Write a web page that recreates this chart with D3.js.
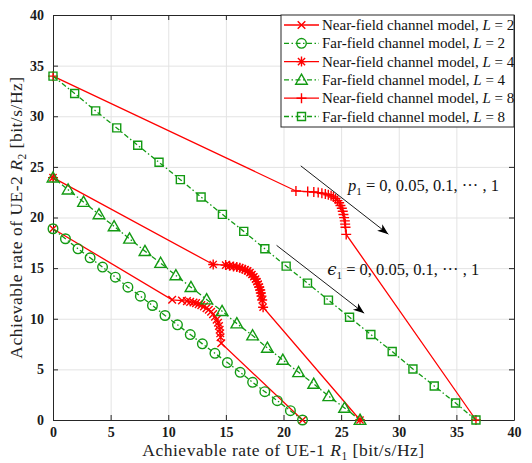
<!DOCTYPE html>
<html><head><meta charset="utf-8">
<script src="https://cdn.jsdelivr.net/npm/d3@7"></script>
<style>body{margin:0;background:#fff}</style>
</head><body>
<svg id="c" width="532" height="463"></svg>
<script>
// ---- data ----
const xTicks = [0,5,10,15,20,25,30,35,40];
const yTicks = [0,5,10,15,20,25,30,35,40];
const legendLabels = ["Near-field channel model, ","Far-field channel model, ","Near-field channel model, ","Far-field channel model, ","Near-field channel model, ","Far-field channel model, "];
const legendL = ["2","2","4","4","8","8"];

const nearL2X = [0,10.34,11.19,11.62,11.90,12.19,12.41,12.64,12.87,13.10,13.32,13.52,13.72,13.89,14.06,14.20,14.32,14.40,14.46,14.51,14.54,14.60,21.65];
const nearL2Y = [18.89,11.87,11.80,11.74,11.67,11.61,11.54,11.44,11.35,11.22,11.05,10.89,10.69,10.46,10.20,9.91,9.61,9.28,8.92,8.56,8.17,7.58,0];
const farL2X = [0,1.08,2.17,3.22,4.30,5.41,6.50,7.58,8.63,9.72,10.80,11.91,12.96,14.05,15.13,16.24,17.32,18.38,19.46,20.60,21.65];
const farL2Y = [18.89,17.90,16.91,16.02,15.10,14.11,13.12,12.23,11.31,10.32,9.40,8.44,7.52,6.59,5.67,4.71,3.72,2.80,1.91,0.92,0];

const nearL4X = [0,13.90,14.98,15.32,15.66,15.95,16.21,16.44,16.67,16.89,17.09,17.26,17.43,17.58,17.69,17.80,17.89,17.98,18.03,18.09,18.15,18.23,26.64];
const nearL4Y = [23.94,15.36,15.30,15.23,15.17,15.10,15.04,14.94,14.85,14.72,14.56,14.37,14.15,13.92,13.67,13.42,13.13,12.84,12.55,12.23,11.85,11.14,0];
const farL4X = [0,1.31,2.65,3.99,5.30,6.64,7.98,9.34,10.66,11.97,13.33,14.67,15.95,17.32,18.60,19.94,21.31,22.62,23.93,25.30,26.64];
const farL4Y = [23.94,22.75,21.53,20.31,19.12,17.90,16.68,15.50,14.28,13.12,11.90,10.75,9.53,8.34,7.12,5.93,4.71,3.56,2.34,1.19,0];

const nearL8X = [0,21.08,22.10,22.63,23.01,23.33,23.63,23.89,24.13,24.33,24.51,24.68,24.83,24.94,25.06,25.14,25.20,25.26,25.32,25.35,25.38,25.44,36.70];
const nearL8Y = [33.96,22.62,22.56,22.52,22.46,22.40,22.33,22.24,22.14,22.02,21.86,21.67,21.45,21.19,20.91,20.62,20.30,19.99,19.67,19.35,19.03,18.33,0];
const farL8X = [0,1.88,3.70,5.53,7.35,9.20,11.05,12.85,14.70,16.55,18.38,20.23,22.08,23.90,25.73,27.58,29.43,31.23,33.08,34.93,36.70];
const farL8Y = [33.96,32.25,30.53,28.85,27.13,25.45,23.74,22.02,20.31,18.63,16.91,15.20,13.52,11.84,10.15,8.44,6.76,5.04,3.36,1.68,0];

const arrowP = [[21.5,25.1],[29.1,18.35]];
const arrowE = [[19.4,17.25],[27.0,10.55]];
const textP = [25.6,23.1];
const textE = [23.8,14.8];

// ---- chart ----
const RED = "#ff0000", GREEN = "#139a13", AX = "#262626";
const L = 53, R = 514, T = 15, B = 420;
const x = d3.scaleLinear().domain([0,40]).range([L,R]);
const y = d3.scaleLinear().domain([0,40]).range([B,T]);
const svg = d3.select("#c");
const FONT = "'Liberation Serif','Times New Roman','DejaVu Serif',serif";

// grid
const g = svg.append("g");
g.append("g").attr("transform",`translate(0,${B})`)
  .call(d3.axisBottom(x).tickValues(xTicks).tickSize(-(B-T)).tickFormat(""))
  .call(s=>{s.select(".domain").remove(); s.selectAll("line").attr("stroke","#e3e3e3");});
g.append("g").attr("transform",`translate(${L},0)`)
  .call(d3.axisLeft(y).tickValues(yTicks).tickSize(-(R-L)).tickFormat(""))
  .call(s=>{s.select(".domain").remove(); s.selectAll("line").attr("stroke","#e3e3e3");});

// axes (inward ticks, box)
function styleAx(s){
  s.select(".domain").attr("stroke",AX);
  s.selectAll(".tick line").attr("stroke",AX);
  s.selectAll("text").attr("font-family",FONT).attr("font-weight","bold").attr("font-size","14px").attr("fill","#1a1a1a");
}
svg.append("g").attr("transform",`translate(0,${B})`)
  .call(d3.axisBottom(x).tickValues(xTicks).tickSizeInner(-5).tickSizeOuter(0).tickPadding(7).tickFormat(d3.format("d")))
  .call(styleAx);
svg.append("g").attr("transform",`translate(0,${T})`)
  .call(d3.axisTop(x).tickValues(xTicks).tickSizeInner(-5).tickSizeOuter(0).tickFormat(""))
  .call(styleAx);
svg.append("g").attr("transform",`translate(${L},0)`)
  .call(d3.axisLeft(y).tickValues(yTicks).tickSizeInner(-5).tickSizeOuter(0).tickPadding(9).tickFormat(d3.format("d")))
  .call(styleAx);
svg.append("g").attr("transform",`translate(${R},0)`)
  .call(d3.axisRight(y).tickValues(yTicks).tickSizeInner(-5).tickSizeOuter(0).tickFormat(""))
  .call(styleAx);

// markers
function markerPath(type){
  switch(type){
    case "x": {const s=3.8; return `M${-s},${-s}L${s},${s}M${-s},${s}L${s},${-s}`;}
    case "+": {const s=5; return `M${-s},0L${s},0M0,${-s}L0,${s}`;}
    case "*": {const s=5, d=3.6; return `M${-s},0L${s},0M0,${-s}L0,${s}M${-d},${-d}L${d},${d}M${-d},${d}L${d},${-d}`;}
    case "o": {const s=4.8; return `M${s},0A${s},${s} 0 1,1 ${-s},0A${s},${s} 0 1,1 ${s},0Z`;}
    case "^": {const s=5.8; return `M0,${-s}L${s},${s*0.75}L${-s},${s*0.75}Z`;}
    case "s": {const s=4; return `M${-s},${-s}L${s},${-s}L${s},${s}L${-s},${s}Z`;}
  }
}
const series = [
  {xs:nearL2X, ys:nearL2Y, color:RED, dash:null, m:"x"},
  {xs:farL2X, ys:farL2Y, color:GREEN, dash:"5,2.5,1.5,2.5", m:"o"},
  {xs:nearL4X, ys:nearL4Y, color:RED, dash:null, m:"*"},
  {xs:farL4X, ys:farL4Y, color:GREEN, dash:"5,2.5,1.5,2.5", m:"^"},
  {xs:nearL8X, ys:nearL8Y, color:RED, dash:null, m:"+"},
  {xs:farL8X, ys:farL8Y, color:GREEN, dash:"5,2.5,1.5,2.5", m:"s"},
];
const line = d3.line().x(d=>x(d[0])).y(d=>y(d[1]));
series.forEach(s=>{
  const pts = s.xs.map((v,i)=>[v,s.ys[i]]);
  const gg = svg.append("g");
  gg.append("path").attr("d",line(pts)).attr("fill","none").attr("stroke",s.color)
    .attr("stroke-width",1.3).attr("stroke-dasharray",s.dash);
  gg.selectAll("path.m").data(pts).join("path").attr("class","m")
    .attr("transform",d=>`translate(${x(d[0])},${y(d[1])})`)
    .attr("d",markerPath(s.m)).attr("fill","none").attr("stroke",s.color).attr("stroke-width",1.4);
});

// arrows
function arrow(a){
  const x1=x(a[0][0]), y1=y(a[0][1]), x2=x(a[1][0]), y2=y(a[1][1]);
  const ang=Math.atan2(y2-y1,x2-x1);
  svg.append("line").attr("x1",x1).attr("y1",y1).attr("x2",x2).attr("y2",y2).attr("stroke","#000").attr("stroke-width",0.9);
  const len=11, w=4.2, back=8;
  const c=Math.cos(ang), sn=Math.sin(ang);
  const P=(u,v)=>[x2+u*c-v*sn, y2+u*sn+v*c];
  const p=[P(0,0),P(-len,-w),P(-back,0),P(-len,w)];
  svg.append("path").attr("d","M"+p.map(q=>q.join(",")).join("L")+"Z").attr("fill","#000");
}
arrow(arrowP); arrow(arrowE);

function mathText(pos, sym, fam){
  const t = svg.append("text").attr("x",x(pos[0])).attr("y",y(pos[1])+5)
    .attr("font-family",FONT).attr("font-size","16.5px").attr("fill","#111");
  t.append("tspan").attr("font-style","italic").attr("font-family",fam||FONT).text(sym);
  t.append("tspan").attr("font-size","11px").attr("dy",4).text("1");
  t.append("tspan").attr("dy",-4).text(" = 0, 0.05, 0.1, \u00b7\u00b7\u00b7 , 1");
}
mathText(textP,"p");
mathText(textE,"\u03f5","'DejaVu Serif',serif");

// axis labels
function axisLabel(t, ue, sub){
  t.attr("text-anchor","middle").attr("font-family",FONT).attr("font-size","17.5px")
   .attr("letter-spacing","0.5px").attr("fill","#222");
  t.append("tspan").text("Achievable rate of UE-" + ue + " ");
  t.append("tspan").attr("font-style","italic").text("R");
  t.append("tspan").attr("font-size","11.5px").attr("dy",3.5).text(sub);
  t.append("tspan").attr("dy",-3.5).text(" [bit/s/Hz]");
}
axisLabel(svg.append("text").attr("x",(L+R)/2).attr("y",456), "1", "1");
axisLabel(svg.append("text").attr("transform",`translate(22,${(T+B)/2}) rotate(-90)`), "2", "2");

// legend
const lgX = 281, lgY = T, lgW = R - 281, lgH = 112, rowH = 18.3;
const lg = svg.append("g");
lg.append("rect").attr("x",lgX).attr("y",lgY).attr("width",lgW).attr("height",lgH)
  .attr("fill","#fff").attr("stroke",AX).attr("stroke-width",1);
series.forEach((s,i)=>{
  const cy = lgY + 10 + i*rowH;
  lg.append("line").attr("x1",lgX+3).attr("x2",lgX+38).attr("y1",cy).attr("y2",cy)
    .attr("stroke",s.color).attr("stroke-width",1.3).attr("stroke-dasharray",s.dash);
  lg.append("path").attr("transform",`translate(${lgX+20.5},${cy})`).attr("d",markerPath(s.m))
    .attr("fill","none").attr("stroke",s.color).attr("stroke-width",1.4);
  const t = lg.append("text").attr("x",lgX+41).attr("y",cy+5).attr("font-family",FONT)
    .attr("font-size","15px").attr("fill","#111");
  t.append("tspan").text(legendLabels[i]);
  t.append("tspan").attr("font-style","italic").text("L");
  t.append("tspan").text(" = " + legendL[i]);
});
</script>
</body></html>
